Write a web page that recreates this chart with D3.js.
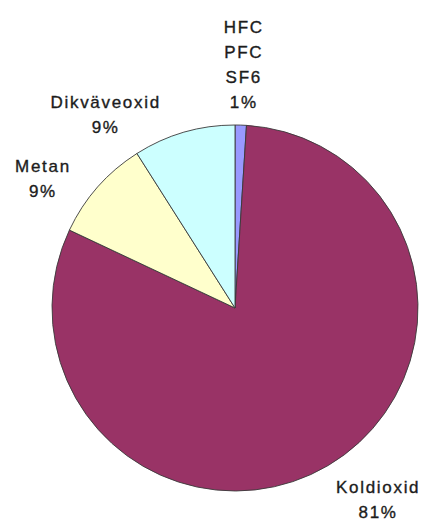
<!DOCTYPE html>
<html>
<head>
<meta charset="utf-8">
<script src="https://cdn.jsdelivr.net/npm/d3@7"></script>
<style>
  html, body { margin: 0; padding: 0; background: #fff; }
  svg { display: block; }
  text { font-family: "Liberation Sans", Arial, sans-serif; }
</style>
</head>
<body>
<svg id="chart" width="423" height="522"></svg>
<script>
// Data
const categories = ["HFC\nPFC\nSF6", "Koldioxid", "Metan", "Dikväveoxid"];
const values = [1, 81, 9, 9];
const percentLabels = ["1%", "81%", "9%", "9%"];
const colors = ["#9999FF", "#993366", "#FFFFCC", "#CCFFFF"];

// Layout
const W = 423, H = 522;
const cx = 235, cy = 308, R = 183;
const labelGap = 17;
const fontSize = 17, lineH = 25, capH = 12.3, letterSp = 1.7;
const labelNudge = [[1, 0], [19, 3], [-22, 15], [-59, 16]];

const svg = d3.select("#chart");
const g = svg.append("g").attr("transform", `translate(${cx},${cy})`);

const pie = d3.pie().sort(null).value(d => d)(values);
const arc = d3.arc().innerRadius(0).outerRadius(R);

g.selectAll("path.slice")
  .data(pie)
  .join("path")
  .attr("class", "slice")
  .attr("d", arc)
  .attr("fill", (d, i) => colors[i])
  .attr("stroke", "#3a3a3a")
  .attr("stroke-width", 0.9);

// Labels
pie.forEach((d, i) => {
  const mid = (d.startAngle + d.endAngle) / 2;
  const s = Math.sin(mid), c = Math.cos(mid);
  const ar = R + labelGap;
  const ax = ar * s, ay = -ar * c;
  const lines = categories[i].split("\n").concat([percentLabels[i]]);
  const tmp = g.append("g");
  const t = tmp.append("text")
    .attr("font-size", fontSize)
    .attr("letter-spacing", letterSp)
    .attr("fill", "#1c1c1c")
    .attr("stroke", "#1c1c1c")
    .attr("stroke-width", 0.35)
    .attr("text-anchor", "middle");
  lines.forEach((ln, k) => t.append("tspan").attr("x", 0).attr("y", k * lineH).text(ln));
  const w = t.node().getBBox().width;
  const h = capH + (lines.length - 1) * lineH;
  const bx = ax + s * w / 2 + labelNudge[i][0];
  const by = ay - c * h / 2 + labelNudge[i][1];
  tmp.attr("transform", `translate(${bx + letterSp / 2},${by - h / 2 + capH})`);
});
</script>
</body>
</html>
